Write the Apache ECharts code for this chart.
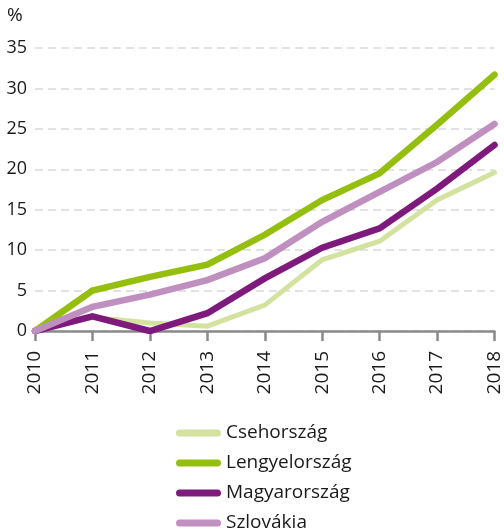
<!DOCTYPE html>
<html>
<head>
<meta charset="utf-8">
<script src="https://cdn.jsdelivr.net/npm/echarts@6/dist/echarts.min.js"></script>
<style>html,body{margin:0;padding:0;background:#fff}#c{width:504px;height:532px}</style>
</head>
<body>
<div id="c"></div>
<script>
var years = ['2010','2011','2012','2013','2014','2015','2016','2017','2018'];
var seriesNames = ['Csehország','Lengyelország','Magyarország','Szlovákia'];
var cseh = [0, 1.7, 1.0, 0.6, 3.2, 8.8, 11.1, 16.2, 19.6];
var lengyel = [0, 5.0, 6.7, 8.2, 11.9, 16.2, 19.5, 25.5, 31.7];
var magyar = [0, 1.8, 0, 2.2, 6.5, 10.3, 12.7, 17.6, 23.0];
var szlovak = [0, 3.0, 4.5, 6.3, 9.0, 13.5, 17.2, 20.9, 25.6];
var yTicks = {min: 0, max: 35, interval: 5};
var colors = ['#d3e29f', '#95bf0f', '#7f1a7d', '#bf8fbf'];
var widths = [5, 6.5, 6.5, 6.5];

var FONT = 'Open Sans';
var dataSets = [cseh, lengyel, magyar, szlovak];
var capsule = 'path://M3.5,0 L41.5,0 A3.5,3.5 0 0 1 41.5,7 L3.5,7 A3.5,3.5 0 0 1 3.5,0 Z';

var chart = echarts.init(document.getElementById('c'), null, {renderer: 'canvas'});
chart.setOption({
  animation: false,
  backgroundColor: '#ffffff',
  grid: {left: 35, right: 6, top: 48, bottom: 201, containLabel: false},
  graphic: [{type: 'text', left: 7, top: 6, style: {text: '%', font: '19px "' + FONT + '"', fill: '#1a1a1a'}}],
  legend: {
    orient: 'vertical', left: 176, top: 423, padding: 0, height: 200, width: 300,
    itemWidth: 45, itemHeight: 7, itemGap: 10,
    icon: capsule,
    textStyle: {fontFamily: FONT, fontSize: 19, lineHeight: 20, color: '#1a1a1a'},
    data: seriesNames
  },
  xAxis: {
    type: 'category', data: years, boundaryGap: false,
    axisLine: {lineStyle: {color: '#8a8a8a', width: 2.5}},
    axisTick: {show: true, length: 10, lineStyle: {color: '#8a8a8a', width: 2.5}},
    axisLabel: {rotate: 90, fontFamily: FONT, fontSize: 19, color: '#1a1a1a', margin: 20},
    splitLine: {show: false}
  },
  yAxis: {
    type: 'value', min: yTicks.min, max: yTicks.max, interval: yTicks.interval,
    axisLine: {show: false}, axisTick: {show: false},
    axisLabel: {fontFamily: FONT, fontSize: 18, color: '#1a1a1a', margin: 8},
    splitLine: {lineStyle: {color: '#d9d9d9', type: [8, 5], width: 1.5}}
  },
  series: seriesNames.map(function (n, i) {
    return {
      name: n, type: 'line', data: dataSets[i], symbol: 'none',
      lineStyle: {color: colors[i], width: widths[i], cap: 'round', join: 'miter'},
      itemStyle: {color: colors[i]},
      z: 2 + i
    };
  })
});
</script>
</body>
</html>
